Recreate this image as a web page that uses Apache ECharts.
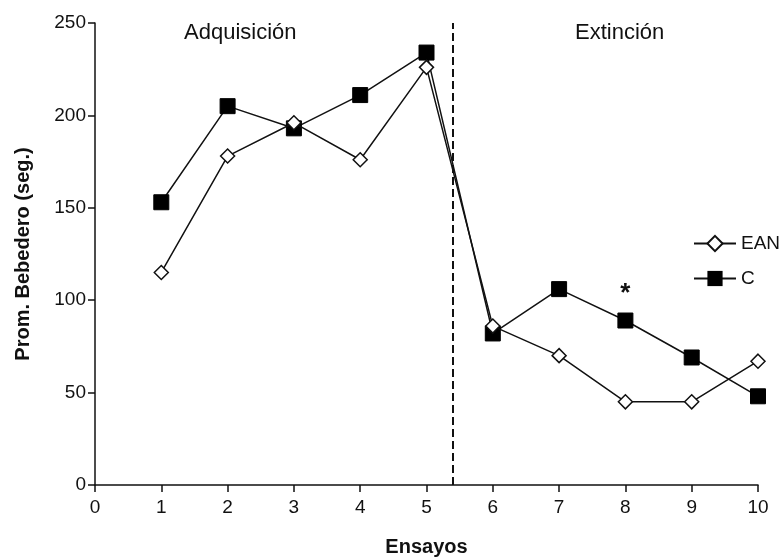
<!DOCTYPE html>
<html>
<head>
<meta charset="utf-8">
<script src="https://cdn.jsdelivr.net/npm/echarts@6/dist/echarts.min.js"></script>
<style>
  html, body { margin: 0; padding: 0; background: #fff; }
  #chart { width: 782px; height: 560px; }
</style>
</head>
<body>
<div id="chart"></div>
<script>
// ensayos 1..10
const ensayos = [1, 2, 3, 4, 5, 6, 7, 8, 9, 10]
const ean = [115, 178, 196, 176, 226, 86, 70, 45, 45, 67]
const grupoC = [153, 205, 193, 211, 234, 82, 106, 89, 69, 48]
const corte = 5.4 // separación adquisición / extinción

const chart = echarts.init(document.getElementById('chart'))
const font = 'Liberation Sans, Arial, sans-serif'

const option = {
  animation: false,
  grid: { left: 95, right: 24, top: 23, bottom: 75, outerBoundsMode: 'none' },
  legend: {
    orient: 'vertical',
    left: 688,
    top: 229,
    itemWidth: 42,
    itemHeight: 19,
    itemGap: 16,
    textStyle: { fontFamily: font, fontSize: 19, color: '#111' },
    data: ['EAN', 'C']
  },
  xAxis: {
    type: 'value',
    min: 0,
    max: 10,
    interval: 1,
    name: 'Ensayos',
    nameLocation: 'middle',
    nameGap: 52,
    nameTextStyle: { fontFamily: font, fontSize: 20, fontWeight: 'bold', color: '#111' },
    splitLine: { show: false },
    axisLine: { lineStyle: { color: '#111', width: 1.5 } },
    axisTick: { length: 7, lineStyle: { color: '#111', width: 1.5 } },
    axisLabel: { fontFamily: font, fontSize: 19, color: '#111', margin: 13 }
  },
  yAxis: {
    type: 'value',
    min: 0,
    max: 250,
    interval: 50,
    name: 'Prom. Bebedero (seg.)',
    nameLocation: 'middle',
    nameGap: 62,
    nameTextStyle: { fontFamily: font, fontSize: 20, fontWeight: 'bold', color: '#111' },
    splitLine: { show: false },
    axisLine: { show: true, lineStyle: { color: '#111', width: 1.5 } },
    axisTick: { show: true, length: 7, lineStyle: { color: '#111', width: 1.5 } },
    axisLabel: { fontFamily: font, fontSize: 19, color: '#111', margin: 9 }
  },
  graphic: [
    { type: 'text', left: 184, top: 22, style: { text: 'Adquisición', fontFamily: font, fontSize: 22, fill: '#111' } },
    { type: 'text', left: 575, top: 22, style: { text: 'Extinción', fontFamily: font, fontSize: 22, fill: '#111' } }
  ],
  series: [
    {
      name: 'EAN',
      type: 'line',
      data: ensayos.map((x, i) => [x, ean[i]]),
      symbol: 'diamond',
      symbolSize: 14,
      lineStyle: { color: '#111', width: 1.5 },
      itemStyle: { color: '#fff', borderColor: '#111', borderWidth: 1.5 },
      z: 3,
      markLine: {
        silent: true,
        symbol: 'none',
        label: { show: false },
        lineStyle: { color: '#111', type: 'dashed', width: 2 },
        data: [{ xAxis: corte }]
      }
    },
    {
      name: 'C',
      type: 'line',
      data: ensayos.map((x, i) => [x, grupoC[i]]),
      symbol: 'rect',
      symbolSize: 15,
      lineStyle: { color: '#111', width: 1.5 },
      itemStyle: { color: '#000', borderColor: '#000' },
      z: 2,
      markPoint: {
        symbol: 'circle',
        symbolSize: 1,
        itemStyle: { color: 'transparent' },
        label: { show: true, formatter: '*', fontFamily: font, fontSize: 26, fontWeight: 'bold', color: '#111', offset: [0, 5] },
        data: [{ coord: [8, 106] }]
      }
    }
  ]
}

chart.setOption(option)
</script>
</body>
</html>
